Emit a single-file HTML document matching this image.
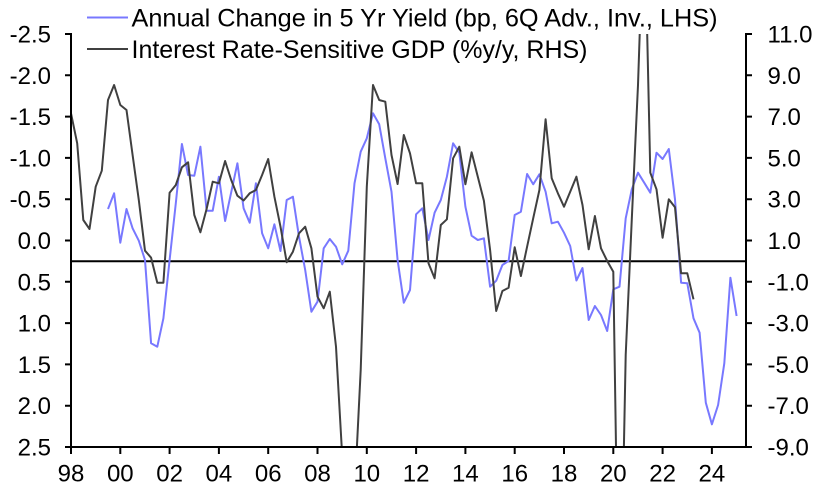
<!DOCTYPE html>
<html>
<head>
<meta charset="utf-8">
<style>
  html, body { margin: 0; padding: 0; background: #ffffff; width: 823px; height: 489px; overflow: hidden; }
  svg { display: block; overflow: hidden; }
  text { font-family: "Liberation Sans", Arial, sans-serif; fill: #000; }
</style>
</head>
<body>
<svg width="823" height="489" viewBox="0 0 823 489" xmlns="http://www.w3.org/2000/svg">
  <defs>
    <clipPath id="plot">
      <rect x="71" y="34" width="675" height="413"/>
    </clipPath>
  </defs>
  <rect x="0" y="0" width="823" height="489" fill="#ffffff"/>

  <!-- zero line (RHS 0) -->
  <line x1="71" y1="261.2" x2="746" y2="261.2" stroke="#000" stroke-width="2"/>

  <!-- series -->
  <g clip-path="url(#plot)" fill="none" stroke-linejoin="round" stroke-width="2">
    <polyline stroke="#7878ff" points="108.0,209 114.1,193.3 120.3,242.7 126.5,209 132.6,228.3 138.8,240.7 145.0,260 151.1,343.3 157.3,346.7 163.4,318.3 169.6,260 175.8,203.3 181.9,144 188.1,175 194.3,175.7 200.4,146.7 206.6,210.7 212.7,210.7 218.9,176.7 225.1,221 231.2,192.3 237.4,163.3 243.6,208.3 249.7,222.7 255.9,183.3 262.1,233.3 268.2,248.3 274.4,224.3 280.5,251 286.7,200 292.9,196.7 299.0,236.7 305.2,270 311.4,311.7 317.5,301.7 323.7,248.3 329.8,239 336.0,246.7 342.2,264.3 348.3,250.7 354.5,183.3 360.7,151.7 366.8,138.3 373.0,113.3 379.2,124.3 385.3,158.3 391.5,191.7 397.6,260 403.8,302.7 410.0,290 416.1,214.3 422.3,208.3 428.5,240 434.6,212.7 440.8,200 446.9,176.7 453.1,143.3 459.3,152.7 465.4,206.7 471.6,235.7 477.8,240 483.9,238.3 490.1,286.7 496.2,280.7 502.4,265 508.6,261 514.7,215 520.9,211.7 527.1,174 533.2,184.3 539.4,174.3 545.6,191.7 551.7,223.3 557.9,221.7 564.0,232.7 570.2,246 576.4,280.5 582.5,268 588.7,320 594.9,306 601.0,315 607.2,331 613.3,289.3 619.5,286.7 625.7,218.3 631.8,189.3 638.0,172.7 644.2,182.7 650.3,192.7 656.5,152.7 662.6,159 668.8,149 675.0,199.3 681.1,282.7 687.3,283.3 693.5,318.3 699.6,332.7 705.8,402.7 711.9,424.3 718.1,405 724.3,363.3 730.4,277.7 736.6,316"/>
    <polyline stroke="#404040" points="71.0,113.3 77.2,143.3 83.3,220 89.5,229 95.7,186.7 101.8,170.7 108.0,100 114.1,85 120.3,105 126.5,110 132.6,155 138.8,200 145.0,250.7 151.1,257.7 157.3,282.7 163.4,282.7 169.6,192.7 175.8,185 181.9,167.3 188.1,162.3 194.3,215 200.4,232.3 206.6,209 212.7,181.7 218.9,183.3 225.1,161 231.2,180 237.4,195.7 243.6,200.5 249.7,193.3 255.9,190 262.1,175 268.2,159 274.4,196.7 280.5,226.7 286.7,262.3 292.9,251.7 299.0,233.3 305.2,226.7 311.4,248.3 317.5,296.7 323.7,308.3 329.8,291.7 336.0,346.7 341.7,447 356.9,447 360.7,370 366.8,186.7 373.0,85 379.2,100 385.3,101.7 391.5,155 397.6,184 403.8,135 410.0,153.3 416.1,183.3 422.3,183.3 428.5,263.3 434.6,278.3 440.8,225 446.9,219.3 453.1,158.3 459.3,146.7 465.4,184.3 471.6,152.3 477.8,176.7 483.9,200.7 490.1,250 496.2,311 502.4,291 508.6,287.7 514.7,247.3 520.9,276 527.1,246.7 533.2,218.3 539.4,190 545.6,119.3 551.7,178.3 557.9,193.3 564.0,206.7 570.2,191.7 576.4,176.7 582.5,205 588.7,249.3 594.9,216 601.0,248.3 607.2,261 613.3,271.7 616.0,447 623.9,447 625.7,355 631.8,219 638.0,85 644.2,-100 650.3,172.7 656.5,189.3 662.6,237.7 668.8,199.3 675.0,207.3 681.1,273.3 687.3,273.3 693.5,299.3"/>
  </g>

  <!-- axes -->
  <g stroke="#000" stroke-width="2" fill="none">
    <line x1="71" y1="33" x2="71" y2="448"/>
    <line x1="746" y1="33" x2="746" y2="448"/>
    <line x1="70" y1="447" x2="747" y2="447"/>
    <!-- left ticks -->
    <path d="M65 34H71 M65 75.3H71 M65 116.6H71 M65 157.9H71 M65 199.2H71 M65 240.5H71 M65 281.8H71 M65 323.1H71 M65 364.4H71 M65 405.7H71 M65 447H71"/>
    <!-- right ticks -->
    <path d="M746 34H752 M746 75.3H752 M746 116.6H752 M746 157.9H752 M746 199.2H752 M746 240.5H752 M746 281.8H752 M746 323.1H752 M746 364.4H752 M746 405.7H752 M746 447H752"/>
    <!-- bottom ticks -->
    <path d="M71 447V454 M120.3 447V454 M169.6 447V454 M218.9 447V454 M268.2 447V454 M317.5 447V454 M366.8 447V454 M416.1 447V454 M465.4 447V454 M514.7 447V454 M564.0 447V454 M613.3 447V454 M662.6 447V454 M711.9 447V454"/>
  </g>

  <!-- left labels -->
  <g font-size="24" text-anchor="end">
    <text x="51" y="42.5">-2.5</text>
    <text x="51" y="83.8">-2.0</text>
    <text x="51" y="125.1">-1.5</text>
    <text x="51" y="166.4">-1.0</text>
    <text x="51" y="207.7">-0.5</text>
    <text x="51" y="249">0.0</text>
    <text x="51" y="290.3">0.5</text>
    <text x="51" y="331.6">1.0</text>
    <text x="51" y="372.9">1.5</text>
    <text x="51" y="414.2">2.0</text>
    <text x="51" y="455.5">2.5</text>
  </g>

  <!-- right labels -->
  <g font-size="24" text-anchor="start">
    <text x="767.5" y="42.5">11.0</text>
    <text x="767.5" y="83.8">9.0</text>
    <text x="767.5" y="125.1">7.0</text>
    <text x="767.5" y="166.4">5.0</text>
    <text x="767.5" y="207.7">3.0</text>
    <text x="767.5" y="249">1.0</text>
    <text x="767.5" y="290.3">-1.0</text>
    <text x="767.5" y="331.6">-3.0</text>
    <text x="767.5" y="372.9">-5.0</text>
    <text x="767.5" y="414.2">-7.0</text>
    <text x="767.5" y="455.5">-9.0</text>
  </g>

  <!-- bottom labels -->
  <g font-size="24" text-anchor="middle">
    <text x="71" y="481.5">98</text>
    <text x="120.3" y="481.5">00</text>
    <text x="169.6" y="481.5">02</text>
    <text x="218.9" y="481.5">04</text>
    <text x="268.2" y="481.5">06</text>
    <text x="317.5" y="481.5">08</text>
    <text x="366.8" y="481.5">10</text>
    <text x="416.1" y="481.5">12</text>
    <text x="465.4" y="481.5">14</text>
    <text x="514.7" y="481.5">16</text>
    <text x="564.0" y="481.5">18</text>
    <text x="613.3" y="481.5">20</text>
    <text x="662.6" y="481.5">22</text>
    <text x="711.9" y="481.5">24</text>
  </g>

  <!-- legend -->
  <line x1="87" y1="17.5" x2="128" y2="17.5" stroke="#7878ff" stroke-width="2"/>
  <line x1="87" y1="49" x2="128" y2="49" stroke="#404040" stroke-width="2"/>
  <text x="131.5" y="26.5" font-size="25" textLength="586" lengthAdjust="spacingAndGlyphs">Annual Change in 5 Yr Yield (bp, 6Q Adv., Inv., LHS)</text>
  <text x="131.5" y="58" font-size="25" textLength="456" lengthAdjust="spacingAndGlyphs">Interest Rate-Sensitive GDP (%y/y, RHS)</text>
</svg>
</body>
</html>
